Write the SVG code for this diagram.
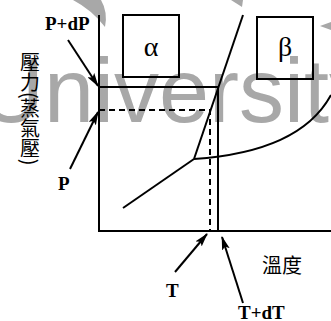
<svg xmlns="http://www.w3.org/2000/svg" width="331" height="321" viewBox="0 0 331 321">
<style>
.ln{stroke:#000;stroke-width:2;fill:none}
.ds{stroke:#000;stroke-width:2;fill:none;stroke-dasharray:6,4}
.ar{stroke:#000;stroke-width:2;fill:none;marker-end:url(#ah)}
.lb{font-family:"Liberation Serif","Times New Roman",serif;font-weight:bold;font-size:19px;fill:#000}
.gr{font-family:"Liberation Serif","Times New Roman",serif;font-size:28px;fill:#000}
.cj{font-family:"Noto Sans CJK TC","Noto Sans CJK SC",sans-serif;font-size:20px;fill:#000}
.wm{fill:#a8a8a8}
</style>
<defs>
<marker id="ah" markerWidth="14" markerHeight="8" refX="13" refY="4" orient="auto" markerUnits="userSpaceOnUse">
<path d="M0,0 L14,4 L0,8 L3,4 Z" fill="#000"/>
</marker>
</defs>
<g id="watermark">
<text class="wm" x="-21" y="122" font-family="Liberation Sans, Arial, sans-serif" font-size="90">University</text>
<path class="wm" d="M73,0 L101,0 Q108,12 105,27 Q92,10 73,0 Z"/>
<path class="wm" d="M231,0 L243,0 L242,7 Z"/>
<path class="wm" d="M320,26 L331,22 L331,30 Z"/>
</g>
<g id="axes">
<path class="ln" d="M99,15 L99,231 L331,231"/>
</g>
<g id="alpha">
<rect class="ln" x="123" y="15" width="56" height="62"/>
<text class="gr" x="151" y="56" text-anchor="middle">α</text>
</g>
<g id="beta">
<rect class="ln" x="257" y="17" width="56" height="62"/>
<text class="gr" x="285" y="56" text-anchor="middle">β</text>
</g>
<g id="connectors">
<path class="ln" d="M243,15 L194,159"/>
<path class="ln" d="M123,208 L194,159"/>
<path class="ln" d="M194,159 Q300,152 331,95"/>
<path class="ln" d="M99,87 L218,87 L218,231"/>
<path class="ds" d="M99,110 L210,110 L210,231"/>
<path class="ar" d="M68,40 L98,86"/>
<path class="ar" d="M70,169 L98,112"/>
<path class="ar" d="M175,272 L207,234"/>
<path class="ar" d="M243,303 L222,237"/>
</g>
<g id="labels">
<text class="lb" x="45" y="30">P+dP</text>
<text class="lb" x="58" y="190">P</text>
<text class="lb" x="166" y="297">T</text>
<text class="lb" x="238" y="319">T+dT</text>
<text class="cj" x="262" y="273">溫度</text>
<text class="cj" x="30" y="52" writing-mode="vertical-rl">壓力(蒸氣壓)</text>
</g>
</svg>
